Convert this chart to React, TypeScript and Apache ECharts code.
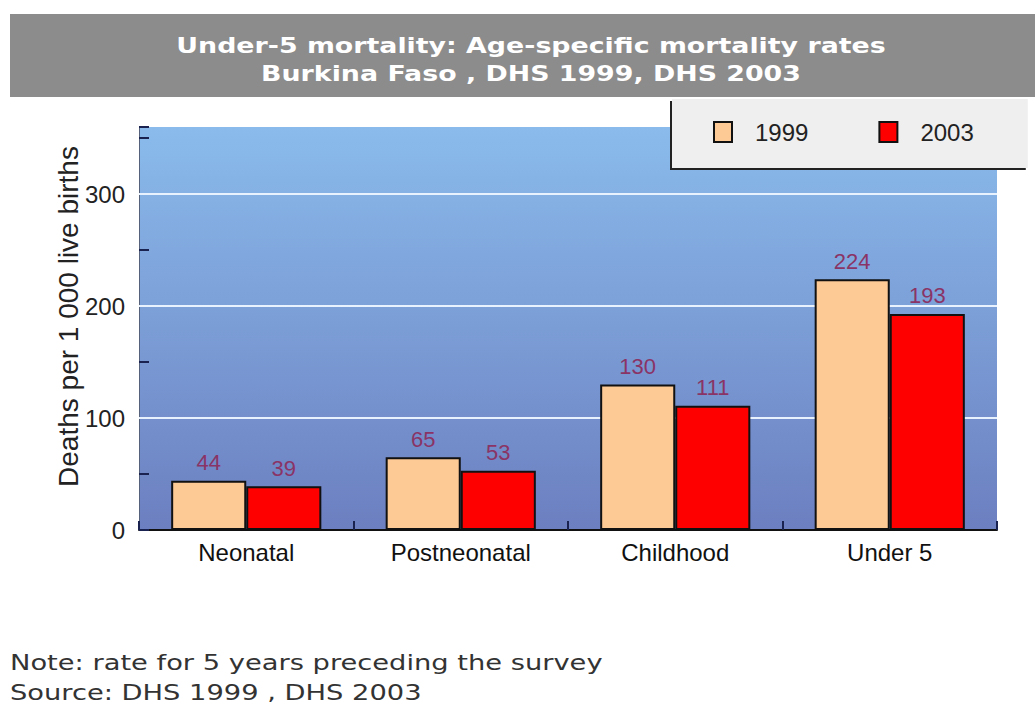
import React, { useEffect, useRef } from "react";
import * as echarts from "echarts";

const categories = ["Neonatal", "Postneonatal", "Childhood", "Under 5"];
const seriesNames = ["1999", "2003"];
const values1999 = [44, 65, 130, 224];
const values2003 = [39, 53, 111, 193];
const gridValues = [100, 200, 300];
const titleLines = [
  "Under-5 mortality: Age-specific mortality rates",
  "Burkina Faso , DHS 1999, DHS 2003",
];
const noteLines = [
  "Note: rate for 5 years preceding the survey",
  "Source: DHS 1999 , DHS 2003",
];
const yAxisName = "Deaths per 1 000 live births";

export default function App() {
  const ref = useRef<HTMLDivElement>(null);
  useEffect(() => {
    document.body.style.margin = "0";
    const chart = echarts.init(ref.current!, null, { renderer: "svg" });
    const labelStyle = {
      show: true,
      position: "top",
      distance: 7,
      color: "#8a3466",
      fontFamily: "Liberation Sans, Arial, sans-serif",
      fontSize: 22,
    };
    chart.setOption({
      animation: false,
      backgroundColor: "#ffffff",
      graphic: [
        {
          type: "rect",
          left: 10,
          top: 14,
          shape: { width: 1025, height: 83 },
          style: { fill: "#8c8c8c" },
          z: 0,
        },
        {
          type: "text",
          x: 531,
          y: 31,
          scaleX: 1.22,
          style: {
            text: titleLines.join("\n"),
            fill: "#ffffff",
            font: "bold 22px 'DejaVu Sans', Verdana, sans-serif",
            textAlign: "center",
            lineHeight: 28,
          },
          z: 1,
        },
        {
          type: "text",
          x: 10,
          y: 648,
          scaleX: 1.3,
          style: {
            text: noteLines.join("\n"),
            fill: "#333333",
            font: "21px 'DejaVu Sans', Verdana, sans-serif",
            lineHeight: 30,
          },
        },
      ],
      legend: {
        data: seriesNames,
        left: 672,
        top: 99,
        orient: "horizontal",
        backgroundColor: "#efefef",
        padding: [21, 54, 24, 41],
        itemGap: 70,
        itemWidth: 18,
        itemHeight: 20,
        icon: "rect",
        shadowColor: "#222",
        shadowBlur: 0,
        shadowOffsetX: -2,
        shadowOffsetY: 2,
        textStyle: {
          fontFamily: "Liberation Sans, Arial, sans-serif",
          fontSize: 24,
          color: "#222",
          padding: [0, 0, 0, 18],
        },
      },
      grid: {
        left: 139,
        top: 127,
        right: 38,
        bottom: 176,
        show: true,
        borderWidth: 0,
        backgroundColor: new echarts.graphic.LinearGradient(0, 0, 0, 1, [
          { offset: 0, color: "#8abbec" },
          { offset: 1, color: "#6c7fc0" },
        ]),
      },
      xAxis: {
        type: "category",
        data: categories,
        axisLine: { show: true, lineStyle: { color: "#111", width: 2 } },
        axisTick: { show: true, inside: true, length: 9, lineStyle: { color: "#1a2250", width: 2 } },
        axisLabel: {
          color: "#111",
          fontFamily: "Liberation Sans, Arial, sans-serif",
          fontSize: 24,
          margin: 10,
        },
      },
      yAxis: {
        type: "value",
        min: 0,
        max: 360,
        interval: 50,
        name: yAxisName,
        nameLocation: "middle",
        nameGap: 57,
        nameMoveOverlap: false,
        nameTextStyle: {
          color: "#222",
          fontFamily: "Liberation Sans, Arial, sans-serif",
          fontSize: 28,
          padding: [0, 0, 0, 24],
        },
        axisLine: { show: true, lineStyle: { color: "#55607a", width: 1 } },
        axisTick: { show: true, inside: true, length: 10, lineStyle: { color: "#1a2250", width: 2 } },
        splitLine: { show: false },
        axisLabel: {
          color: "#222",
          fontFamily: "Liberation Sans, Arial, sans-serif",
          fontSize: 24,
          margin: 14,
          formatter: (v: number) => (v % 100 === 0 && v <= 300 ? String(v) : ""),
        },
      },
      series: [
        {
          name: seriesNames[0],
          type: "bar",
          data: values1999,
          barGap: "0%",
          barCategoryGap: "30%",
          itemStyle: { color: "#fdc994", borderColor: "#111", borderWidth: 2 },
          label: labelStyle,
          markLine: {
            silent: true,
            symbol: "none",
            label: { show: false },
            lineStyle: { color: "#e8f2ff", width: 2, type: "solid" },
            data: gridValues.map((v) => ({ yAxis: v })),
            z: 1,
          },
          z: 3,
        },
        {
          name: seriesNames[1],
          type: "bar",
          data: values2003,
          itemStyle: { color: "#ff0000", borderColor: "#111", borderWidth: 2 },
          label: labelStyle,
          z: 3,
        },
      ],
    });
    return () => chart.dispose();
  }, []);
  return <div ref={ref} style={{ width: 1035, height: 706 }} />;
}
